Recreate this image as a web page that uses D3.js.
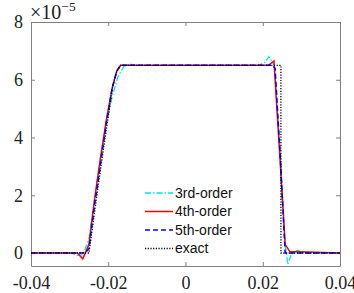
<!DOCTYPE html>
<html>
<head>
<meta charset="utf-8">
<script src="https://cdn.jsdelivr.net/npm/d3@7"></script>
<style>
  html, body { margin: 0; padding: 0; background: #fff; }
  svg { display: block; }
</style>
</head>
<body>
<div id="chart"></div>
<script>
// Series data (x in m, y in units of 1e-5)
const x3 = [-0.04, -0.03, -0.028, -0.0265, -0.025, -0.0235, -0.022, -0.0205, -0.019, -0.0175, -0.016, -0.0145, -0.013, 0.019, 0.0205, 0.0216, 0.023, 0.0245, 0.0258, 0.0265, 0.0275, 0.029, 0.031, 0.04];
const y3 = [0, 0, -0.08, -0.06, 0.5, 1.9, 3.3, 4.5, 5.4, 6.1, 6.45, 6.55, 6.5, 6.5, 6.6, 6.8, 6.5, 3.5, 0.3, -0.4, 0.0, 0.1, 0, 0];

const x4 = [-0.04, -0.028, -0.0266, -0.025, -0.0235, -0.022, -0.0205, -0.019, -0.0178, -0.0168, 0.0215, 0.0229, 0.0245, 0.0258, 0.027, 0.04];
const y4 = [0, 0, -0.2, 0.3, 1.9, 3.3, 4.6, 5.7, 6.3, 6.5, 6.5, 6.65, 3.2, 0.3, 0.05, 0];

const x5 = [-0.04, -0.026, -0.025, -0.0235, -0.022, -0.0205, -0.019, -0.0178, -0.0168, 0.0225, 0.0232, 0.0245, 0.0258, 0.04];
const y5 = [0, 0, 0.15, 1.7, 3.1, 4.5, 5.7, 6.3, 6.5, 6.5, 6.4, 3.4, 0, 0];

const xEx = [-0.04, -0.025, -0.0219, -0.0188, -0.0178, -0.0168, 0.0247, 0.0247, 0.04];
const yEx = [0, 0, 3.0, 5.8, 6.3, 6.5, 6.5, 0, 0];

const xTicks = [-0.04, -0.02, 0, 0.02, 0.04];
const xTickLabels = ['-0.04', '-0.02', '0', '0.02', '0.04'];
const yTicks = [0, 2, 4, 6, 8];
const legendLabels = ['3rd-order', '4th-order', '5th-order', 'exact'];

const width = 354, height = 293;
const margin = { left: 31, right: 14, top: 22, bottom: 27 };

const svg = d3.select('#chart').append('svg')
    .attr('width', width)
    .attr('height', height);

const x = d3.scaleLinear().domain([-0.04, 0.04]).range([margin.left, width - margin.right]);
const y = d3.scaleLinear().domain([-0.45, 8]).range([height - margin.bottom, margin.top]);

// Axes box with inward ticks on all four sides
const axisColor = '#808080';
const tickLen = 4;
const serif = '"Liberation Serif", "Times New Roman", serif';

function styleAxis(g) {
    g.select('.domain').attr('stroke', axisColor);
    g.selectAll('.tick line').attr('stroke', axisColor);
    g.selectAll('.tick text')
        .attr('fill', '#222')
        .style('font-family', serif)
        .style('font-size', '18px');
}

svg.append('g')
    .attr('transform', `translate(0,${y.range()[0]})`)
    .call(d3.axisBottom(x).tickValues(xTicks).tickFormat((d, i) => xTickLabels[i])
        .tickSizeInner(-tickLen).tickSizeOuter(0).tickPadding(10))
    .call(styleAxis);

svg.append('g')
    .attr('transform', `translate(0,${y.range()[1]})`)
    .call(d3.axisTop(x).tickValues(xTicks).tickFormat('')
        .tickSizeInner(-tickLen).tickSizeOuter(0))
    .call(styleAxis);

svg.append('g')
    .attr('transform', `translate(${x.range()[0]},0)`)
    .call(d3.axisLeft(y).tickValues(yTicks).tickFormat(d3.format('d'))
        .tickSizeInner(-tickLen).tickSizeOuter(0).tickPadding(8))
    .call(styleAxis);

svg.append('g')
    .attr('transform', `translate(${x.range()[1]},0)`)
    .call(d3.axisRight(y).tickValues(yTicks).tickFormat('')
        .tickSizeInner(-tickLen).tickSizeOuter(0))
    .call(styleAxis);

// Exponent label
const expo = svg.append('text')
    .attr('x', margin.left - 1)
    .attr('y', 19)
    .attr('fill', '#222')
    .style('font-family', serif)
    .style('font-size', '20px');
expo.append('tspan').text('×10');
expo.append('tspan').attr('dy', -8).style('font-size', '13.5px').text('−5');

// Lines
const series = [
    { xs: x3, ys: y3, color: '#00e5ee', dash: '6,2,1.5,2', w: 1.3 },
    { xs: x4, ys: y4, color: '#ff0000', dash: null, w: 1.5 },
    { xs: x5, ys: y5, color: '#0000ff', dash: '5,3', w: 1.5 },
    { xs: xEx, ys: yEx, color: '#000000', dash: '1.2,1.5', w: 1.3 }
];

const line = d3.line().x(d => x(d[0])).y(d => y(d[1]));

const plot = svg.append('g');
series.forEach(s => {
    plot.append('path')
        .datum(s.xs.map((v, i) => [v, s.ys[i]]))
        .attr('fill', 'none')
        .attr('stroke', s.color)
        .attr('stroke-width', s.w)
        .attr('stroke-dasharray', s.dash)
        .attr('d', line);
});

// Legend
const legend = svg.append('g').attr('transform', 'translate(145,193)');
series.forEach((s, i) => {
    const row = legend.append('g').attr('transform', `translate(0,${i * 18.5})`);
    row.append('line')
        .attr('x1', 0).attr('x2', 28)
        .attr('stroke', s.color)
        .attr('stroke-width', s.w)
        .attr('stroke-dasharray', s.dash);
    row.append('text')
        .attr('x', 30)
        .attr('dy', '0.35em')
        .attr('fill', '#111')
        .style('font-family', '"Liberation Sans", Arial, sans-serif')
        .style('font-size', '14px')
        .text(legendLabels[i]);
});
</script>
</body>
</html>
